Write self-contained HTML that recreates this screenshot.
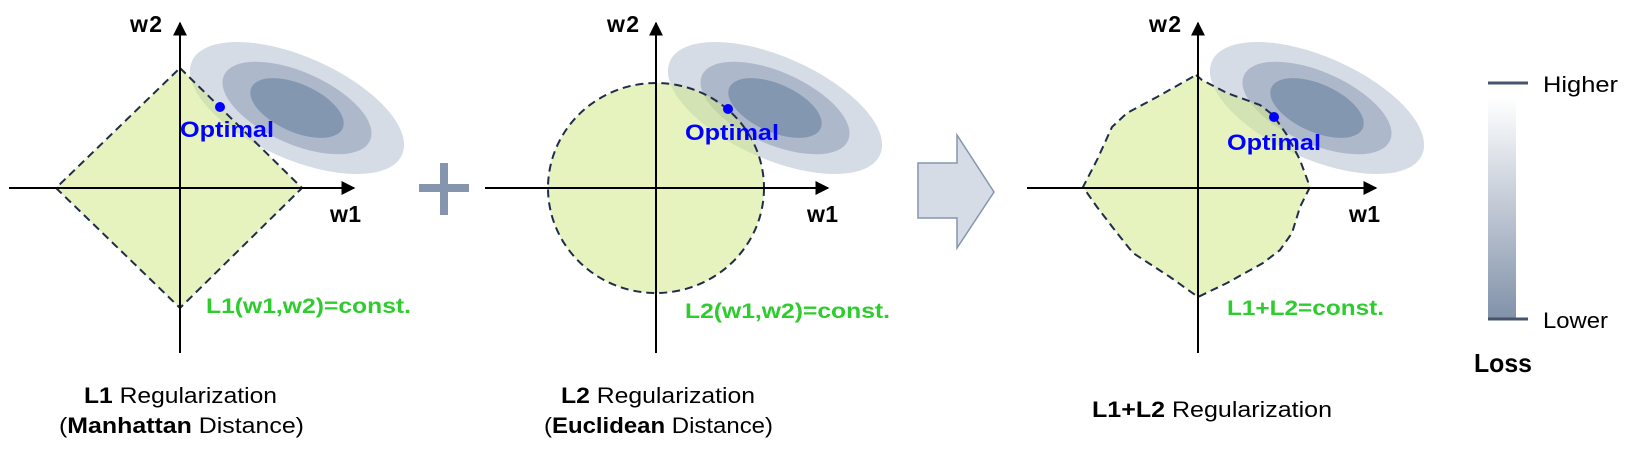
<!DOCTYPE html>
<html><head><meta charset="utf-8"><style>
html,body{margin:0;padding:0;background:#fff;}
svg{display:block;font-family:"Liberation Sans","Noto Sans CJK KR",sans-serif;}
</style></head><body>
<svg width="1632" height="467" viewBox="0 0 1632 467">
<defs>
<marker id="ah" viewBox="0 0 10 10" refX="9" refY="5" markerWidth="7" markerHeight="7" orient="auto"><path d="M0,0 L10,5 L0,10 z" fill="#000"/></marker>
<linearGradient id="lg" x1="0" y1="0" x2="0" y2="1"><stop offset="0" stop-color="#ffffff"/><stop offset="1" stop-color="#8292aa"/></linearGradient>
</defs>

<g>
<g transform="translate(297,108) rotate(24)">
<ellipse rx="115" ry="51" fill="#d6dce6"/><ellipse rx="80" ry="36" fill="#adb8ca"/><ellipse rx="50" ry="24" fill="#8497b0"/>
</g>
<polygon points="180,68 302,188 180,308 56,188" fill="#d4ea8a" fill-opacity="0.55" stroke="#1f2d4a" stroke-width="2" stroke-dasharray="8 5"/>
<line x1="9" y1="188" x2="354" y2="188" stroke="#000" stroke-width="2" marker-end="url(#ah)"/>
<line x1="180" y1="353" x2="180" y2="23" stroke="#000" stroke-width="2" marker-end="url(#ah)"/>
<text x="130" y="32" font-size="23" font-weight="bold" textLength="32">w2</text>
<text x="330" y="222" font-size="23" font-weight="bold" textLength="31">w1</text>
<circle cx="220" cy="107" r="5" fill="#0000ff"/>
<text x="180" y="137" font-size="22" font-weight="bold" fill="#0000ff" textLength="94" lengthAdjust="spacingAndGlyphs">Optimal</text>
<text x="206" y="313" font-size="21" font-weight="bold" fill="#2ecc2e" textLength="205" lengthAdjust="spacingAndGlyphs">L1(w1,w2)=const.</text>
<text x="84" y="403" font-size="22" textLength="193" lengthAdjust="spacingAndGlyphs"><tspan font-weight="bold">L1</tspan> Regularization</text>
<text x="59" y="433" font-size="22" textLength="245" lengthAdjust="spacingAndGlyphs">(<tspan font-weight="bold">Manhattan</tspan> Distance)</text>
</g>

<g fill="#8595ad">
<rect x="419" y="184" width="50" height="8"/><rect x="440" y="163" width="8" height="52"/>
</g>

<g>
<g transform="translate(775,108) rotate(24)">
<ellipse rx="115" ry="51" fill="#d6dce6"/><ellipse rx="80" ry="36" fill="#adb8ca"/><ellipse rx="50" ry="24" fill="#8497b0"/>
</g>
<ellipse cx="656" cy="188" rx="108" ry="105" fill="#d4ea8a" fill-opacity="0.55" stroke="#1f2d4a" stroke-width="2" stroke-dasharray="8 5"/>
<line x1="485" y1="188" x2="828" y2="188" stroke="#000" stroke-width="2" marker-end="url(#ah)"/>
<line x1="656" y1="353" x2="656" y2="23" stroke="#000" stroke-width="2" marker-end="url(#ah)"/>
<text x="607" y="32" font-size="23" font-weight="bold" textLength="32">w2</text>
<text x="807" y="222" font-size="23" font-weight="bold" textLength="31">w1</text>
<circle cx="728" cy="109" r="5" fill="#0000ff"/>
<text x="685" y="140" font-size="22" font-weight="bold" fill="#0000ff" textLength="94" lengthAdjust="spacingAndGlyphs">Optimal</text>
<text x="685" y="318" font-size="21" font-weight="bold" fill="#2ecc2e" textLength="205" lengthAdjust="spacingAndGlyphs">L2(w1,w2)=const.</text>
<text x="561" y="403" font-size="22" textLength="194" lengthAdjust="spacingAndGlyphs"><tspan font-weight="bold">L2</tspan> Regularization</text>
<text x="544" y="433" font-size="22" textLength="229" lengthAdjust="spacingAndGlyphs">(<tspan font-weight="bold">Euclidean</tspan> Distance)</text>
</g>

<polygon points="918,163 957,163 957,135 994,192 957,248 957,218 918,218" fill="#d6dce6" stroke="#8595ad" stroke-width="1.5"/>

<g>
<g transform="translate(1317,108) rotate(24)">
<ellipse rx="115" ry="51" fill="#d6dce6"/><ellipse rx="80" ry="36" fill="#adb8ca"/><ellipse rx="50" ry="24" fill="#8497b0"/>
</g>
<polygon points="1196,75 1202,80 1227,93 1260,105 1273,115 1287,135 1300,160 1310,187 1300,207 1292,233 1280,250 1263,263 1227,283 1198,297 1170,277 1133,253 1117,233 1097,207 1083,187 1097,160 1112,127 1127,113 1157,97" fill="#d4ea8a" fill-opacity="0.55" stroke="#1f2d4a" stroke-width="2" stroke-dasharray="8 5"/>
<line x1="1027" y1="188" x2="1376" y2="188" stroke="#000" stroke-width="2" marker-end="url(#ah)"/>
<line x1="1198" y1="353" x2="1198" y2="23" stroke="#000" stroke-width="2" marker-end="url(#ah)"/>
<text x="1149" y="32" font-size="23" font-weight="bold" textLength="32">w2</text>
<text x="1349" y="222" font-size="23" font-weight="bold" textLength="31">w1</text>
<circle cx="1274" cy="117" r="5" fill="#0000ff"/>
<text x="1227" y="150" font-size="22" font-weight="bold" fill="#0000ff" textLength="94" lengthAdjust="spacingAndGlyphs">Optimal</text>
<text x="1227" y="315" font-size="21" font-weight="bold" fill="#2ecc2e" textLength="157" lengthAdjust="spacingAndGlyphs">L1+L2=const.</text>
<text x="1092" y="417" font-size="22" textLength="240" lengthAdjust="spacingAndGlyphs"><tspan font-weight="bold">L1+L2</tspan> Regularization</text>
</g>

<g>
<rect x="1488" y="98" width="28" height="220" fill="url(#lg)"/>
<line x1="1488" y1="83" x2="1528" y2="83" stroke="#44546a" stroke-width="3"/>
<line x1="1488" y1="319" x2="1528" y2="319" stroke="#44546a" stroke-width="3"/>
<text x="1543" y="92" font-size="22" textLength="75" lengthAdjust="spacingAndGlyphs">Higher</text>
<text x="1543" y="328" font-size="22" textLength="65" lengthAdjust="spacingAndGlyphs">Lower</text>
<text x="1474" y="372" font-size="26" font-weight="bold" textLength="58" lengthAdjust="spacingAndGlyphs">Loss</text>
</g>
</svg>
</body></html>
